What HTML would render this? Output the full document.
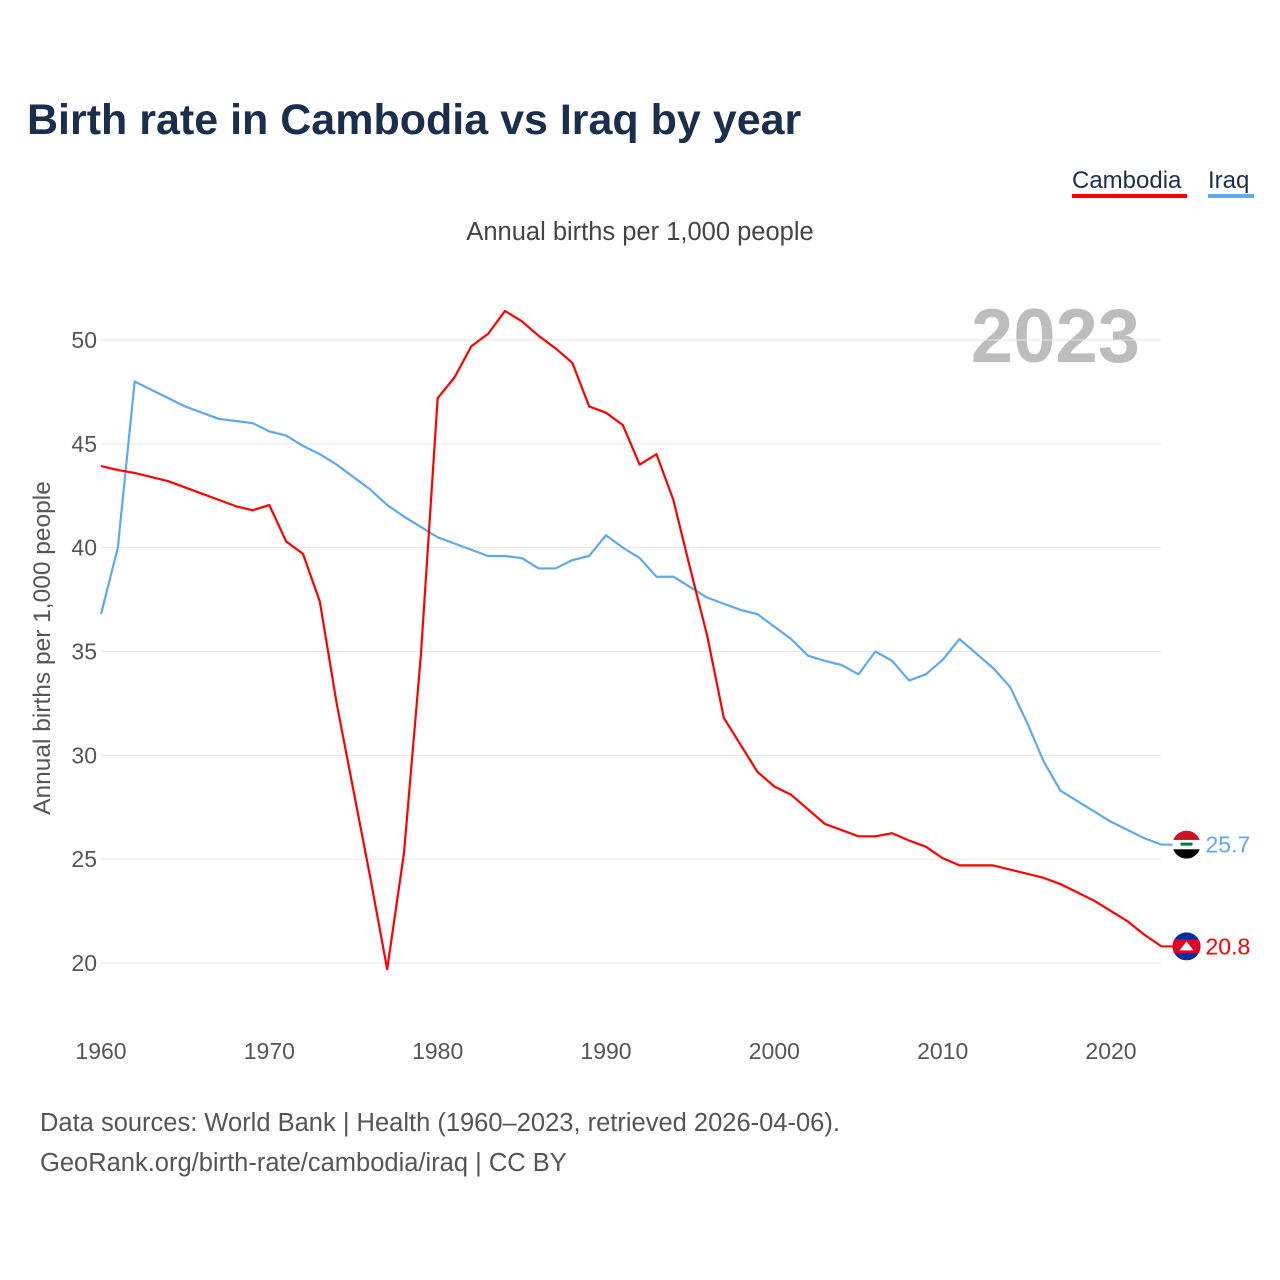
<!DOCTYPE html>
<html><head><meta charset="utf-8">
<style>
body{margin:0;background:#fff;font-family:"Liberation Sans",sans-serif;}
#wrap{position:relative;width:1280px;height:1280px;overflow:hidden;}
</style></head>
<body>
<div id="wrap">
<svg id="chart" width="1280" height="1280" style="font-family:'Liberation Sans',sans-serif">
<text x="27" y="134" font-size="43" font-weight="bold" fill="#1b2f4d">Birth rate in Cambodia vs Iraq by year</text>
<g>
<text x="1072" y="188" font-size="24" fill="#1b2f4d">Cambodia</text>
<rect x="1072" y="194" width="115" height="4" fill="#ff0000"/>
</g>
<g>
<text x="1208" y="188" font-size="24" fill="#1b2f4d">Iraq</text>
<rect x="1208" y="194" width="46" height="4" fill="#5fa8ec"/>
</g>
<text x="640" y="240" font-size="25.5" fill="#444" text-anchor="middle">Annual births per 1,000 people</text>
<text x="1140" y="362" font-size="76" font-weight="bold" fill="#bdbdbd" text-anchor="end">2023</text>
<text transform="translate(50,648) rotate(-90)" font-size="24.5" fill="#555" text-anchor="middle">Annual births per 1,000 people</text>
<g id="grid"></g><g id="yticks"></g><g id="xticks"></g><g id="lines"></g><g id="ends"></g>
<text x="40" y="1131" font-size="25.5" fill="#555">Data sources: World Bank | Health (1960–2023, retrieved 2026-04-06).</text>
<text x="40" y="1171" font-size="25.5" fill="#555">GeoRank.org/birth-rate/cambodia/iraq | CC BY</text>
</svg>
</div>
<script>
const years=[];for(let y=1960;y<=2023;y++)years.push(y);
const cambodia=[43.93,43.74,43.6,43.4,43.2,42.9,42.6,42.3,42.0,41.8,42.05,40.3,39.7,37.4,32.5,28.3,24.1,19.7,25.3,34.8,47.2,48.2,49.7,50.3,51.4,50.9,50.2,49.6,48.9,46.8,46.5,45.9,44.0,44.5,42.3,39.0,35.8,31.8,30.5,29.2,28.5,28.1,27.4,26.7,26.4,26.1,26.1,26.25,25.9,25.6,25.05,24.7,24.7,24.7,24.5,24.3,24.1,23.8,23.4,23.0,22.5,22.0,21.35,20.8];
const iraq=[36.8,40.0,48.0,47.6,47.2,46.8,46.5,46.2,46.1,46.0,45.6,45.4,44.9,44.5,44.0,43.4,42.8,42.05,41.5,41.0,40.5,40.2,39.9,39.6,39.6,39.5,39.0,39.0,39.4,39.6,40.6,40.0,39.5,38.6,38.6,38.1,37.6,37.3,37.0,36.8,36.2,35.6,34.8,34.55,34.35,33.9,35.0,34.55,33.6,33.9,34.6,35.6,34.9,34.2,33.3,31.6,29.7,28.3,27.8,27.3,26.8,26.4,26.0,25.7];
const yTicks=[20,25,30,35,40,45,50];
const xTicks=[1960,1970,1980,1990,2000,2010,2020];
const NS="http://www.w3.org/2000/svg";
const X=v=>101+(v-1960)*(1010/60);
const Y=v=>340+(50-v)*(623/30);
function mk(tag,attrs,parent){const e=document.createElementNS(NS,tag);for(const k in attrs)e.setAttribute(k,attrs[k]);parent.appendChild(e);return e;}
const g=document.getElementById('grid'),yt=document.getElementById('yticks'),xt=document.getElementById('xticks'),ln=document.getElementById('lines'),en=document.getElementById('ends');
yTicks.forEach(t=>{
 const l=mk('line',{x1:101,x2:1161,y1:Y(t),y2:Y(t),stroke:'#e6e6e6','stroke-width':1},g);
 
 
 const tx=mk('text',{x:97,y:Y(t)+8,'font-size':23,fill:'#555','text-anchor':'end'},yt);
 tx.textContent=t;
 
 
});
xTicks.forEach(t=>{
 const tx=mk('text',{x:X(t),y:1059,'font-size':23,fill:'#555','text-anchor':'middle'},xt);
 tx.textContent=t;
 
 
});
function line(data,color,name){
 const p=mk('polyline',{points:data.map((v,i)=>X(years[i])+','+Y(v)).join(' '),fill:'none',stroke:color,'stroke-width':2.2,'stroke-linejoin':'round'},ln);
 
 
}
line(iraq,'#5fa8ec','iraq-line');
line(cambodia,'#ff0000','cambodia-line');
function end(data,color,name,flag){
 const v=data[data.length-1],x=X(years[years.length-1]),y=Y(v);
 mk('line',{x1:x,x2:x+24,y1:y,y2:y,stroke:color,'stroke-width':2},en);
 const gg=mk('g',{},en);
 
 
 const cx=x+25,r=14;
 mk('clipPath',{id:'c'+name},gg).appendChild(document.createElementNS(NS,'circle')).setAttribute('r',r);
 document.querySelector('#c'+name+' circle').setAttribute('cx',cx);
 document.querySelector('#c'+name+' circle').setAttribute('cy',y);
 const fg=mk('g',{'clip-path':'url(#c'+name+')'},gg);
 if(flag==='iq'){
  mk('rect',{x:cx-r,y:y-r,width:2*r,height:r*2/3,fill:'#ce1126'},fg);
  mk('rect',{x:cx-r,y:y-r/3,width:2*r,height:r*2/3,fill:'#fff'},fg);
  mk('rect',{x:cx-r,y:y+r/3,width:2*r,height:r*2/3,fill:'#000'},fg);
  mk('rect',{x:cx-6,y:y-2,width:12,height:3,fill:'#007a3d'},fg);
 }else{
  mk('rect',{x:cx-r,y:y-r,width:2*r,height:2*r,fill:'#032ea1'},fg);
  mk('rect',{x:cx-r,y:y-r/2,width:2*r,height:r,fill:'#e00025'},fg);
  mk('polygon',{points:`${cx-7},${y+4} ${cx+7},${y+4} ${cx},${y-5}`,fill:'#fff'},fg);
 }
 const t=mk('text',{x:x+44,y:y+8,'font-size':23,fill:color},en);
 t.textContent=v.toFixed(1);
 
 
}
end(iraq,'#5fa8ec','iraq','iq');
end(cambodia,'#ff0000','cambodia','kh');
</script>
</body></html>
